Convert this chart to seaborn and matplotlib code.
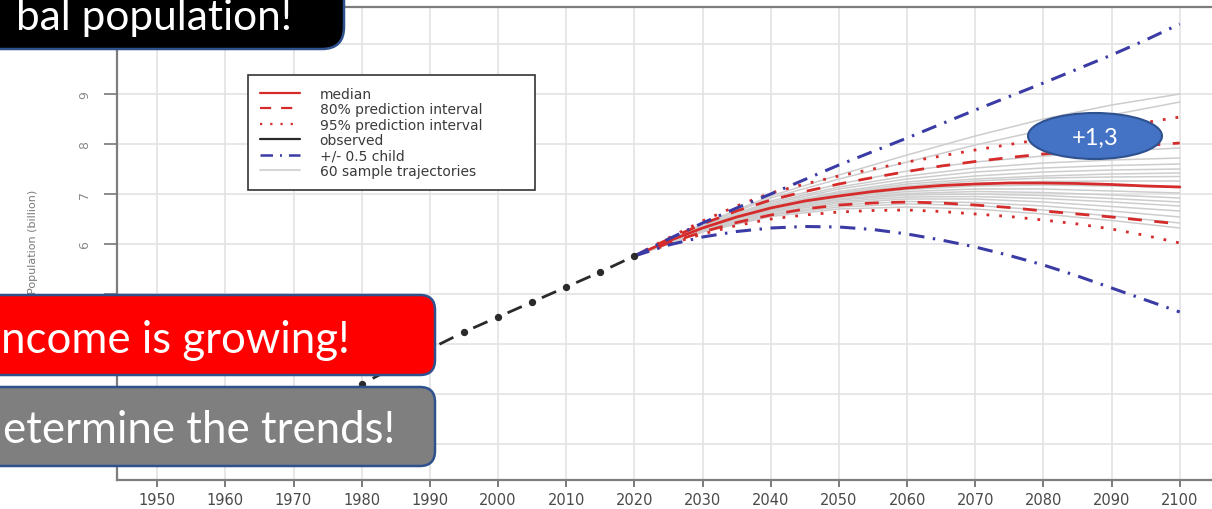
import matplotlib
matplotlib.use("Agg")
import matplotlib.pyplot as plt
from matplotlib.lines import Line2D
from matplotlib.patches import FancyBboxPatch, Ellipse
import pandas as pd
import seaborn as sns

# ---- observed population (billion) ----
obs_years = [1950, 1955, 1960, 1965, 1970, 1975, 1980, 1985,
             1990, 1995, 2000, 2005, 2010, 2015, 2020]
obs_pop = [1.75, 1.95, 2.15, 2.40, 2.65, 2.92, 3.20, 3.55,
           3.90, 4.24, 4.54, 4.84, 5.14, 5.44, 5.76]

# ---- probabilistic projection ----
proj_years = [2020, 2025, 2030, 2035, 2040, 2045, 2050, 2055, 2060,
              2065, 2070, 2075, 2080, 2085, 2090, 2095, 2100]
median = [5.76, 6.06, 6.32, 6.54, 6.72, 6.86, 6.96, 7.05, 7.12,
          7.17, 7.20, 7.22, 7.22, 7.21, 7.19, 7.16, 7.14]
pi80_hi = [5.76, 6.10, 6.40, 6.66, 6.88, 7.05, 7.20, 7.33, 7.45,
           7.56, 7.65, 7.73, 7.80, 7.86, 7.92, 7.97, 8.02]
pi80_lo = [5.76, 6.02, 6.24, 6.43, 6.58, 6.70, 6.78, 6.82, 6.84,
           6.82, 6.78, 6.73, 6.66, 6.60, 6.54, 6.47, 6.40]
pi95_hi = [5.76, 6.12, 6.46, 6.76, 7.02, 7.20, 7.36, 7.50, 7.64,
           7.76, 7.88, 7.99, 8.10, 8.21, 8.32, 8.43, 8.54]
pi95_lo = [5.76, 5.99, 6.20, 6.37, 6.50, 6.58, 6.64, 6.67, 6.68,
           6.65, 6.60, 6.55, 6.48, 6.40, 6.30, 6.17, 6.02]
child_hi = [5.76, 6.10, 6.42, 6.72, 7.00, 7.29, 7.58, 7.85, 8.12,
            8.40, 8.68, 8.95, 9.22, 9.50, 9.78, 10.08, 10.40]
child_lo = [5.76, 5.98, 6.14, 6.25, 6.32, 6.35, 6.34, 6.29, 6.20,
            6.08, 5.94, 5.77, 5.58, 5.36, 5.12, 4.88, 4.64]

# ---- sample trajectories (decadal) ----
traj_years = [2020, 2030, 2040, 2050, 2060, 2070, 2080, 2090, 2100]
trajectories = [
    [5.76, 6.40, 6.96, 7.38, 7.78, 8.16, 8.50, 8.78, 9.00],
    [5.76, 6.38, 6.92, 7.30, 7.64, 7.98, 8.28, 8.58, 8.84],
    [5.76, 6.36, 6.86, 7.20, 7.46, 7.64, 7.76, 7.85, 7.92],
    [5.76, 6.35, 6.83, 7.14, 7.36, 7.52, 7.62, 7.68, 7.72],
    [5.76, 6.34, 6.80, 7.10, 7.30, 7.44, 7.52, 7.57, 7.60],
    [5.76, 6.33, 6.77, 7.05, 7.24, 7.36, 7.44, 7.48, 7.50],
    [5.76, 6.33, 6.76, 7.02, 7.20, 7.30, 7.36, 7.40, 7.42],
    [5.76, 6.32, 6.74, 7.00, 7.16, 7.26, 7.32, 7.34, 7.35],
    [5.76, 6.31, 6.72, 6.97, 7.12, 7.21, 7.25, 7.26, 7.26],
    [5.76, 6.31, 6.71, 6.95, 7.09, 7.16, 7.18, 7.16, 7.14],
    [5.76, 6.30, 6.70, 6.93, 7.05, 7.10, 7.10, 7.06, 7.02],
    [5.76, 6.29, 6.68, 6.90, 7.01, 7.05, 7.03, 6.98, 6.92],
    [5.76, 6.29, 6.67, 6.88, 6.98, 7.00, 6.97, 6.91, 6.84],
    [5.76, 6.28, 6.65, 6.85, 6.94, 6.95, 6.91, 6.84, 6.76],
    [5.76, 6.27, 6.63, 6.82, 6.90, 6.90, 6.84, 6.75, 6.66],
    [5.76, 6.26, 6.60, 6.78, 6.85, 6.83, 6.76, 6.66, 6.54],
    [5.76, 6.25, 6.58, 6.74, 6.80, 6.77, 6.68, 6.56, 6.42],
    [5.76, 6.24, 6.55, 6.70, 6.74, 6.70, 6.60, 6.47, 6.32],
]

x_ticks = list(range(1950, 2101, 10))
y_ticks = [2, 3, 4, 5, 6, 7, 8, 9, 10]
# labels under the banners stay blank
y_tick_labels = ["", "", "", "5", "6", "7", "8", "9", ""]

legend_labels = ["median", "80% prediction interval", "95% prediction interval",
                 "observed", "+/- 0.5 child", "60 sample trajectories"]

banner_texts = ["bal population!", "ncome is growing!", "etermine the trends!"]
bubble_text = "+1,3"

# ---- styles ----
RED = "#D62B2B"
BLUE = "#3B3BA6"
BLACK = "#2A2A2A"
GREY = "#CDCDCD"
dash80 = (0, (5, 4.5))
dot95 = (0, (1, 3.6))
dashdot = (0, (5, 2.8, 0.8, 2.8))
OBS_ON, OBS_OFF = 5.6, 7.9
obs_style = (OBS_ON + OBS_OFF / 2, (OBS_ON, OBS_OFF))

sns.set_style("white")
plt.rcParams["font.family"] = ["DejaVu Sans"]

W, H = 1212, 510
fig = plt.figure(figsize=(W / 100, H / 100), dpi=100)
ax = fig.add_axes([117 / W, 1 - 481 / H, (1220 - 117) / W, (481 - 8) / H])
ax.set_xlim(1944.1, 2105.9)
ax.set_ylim(1.28, 10.74)

# trajectories
traj_df = pd.DataFrame(
    [(i, y, v) for i, tr in enumerate(trajectories) for y, v in zip(traj_years, tr)],
    columns=["traj", "year", "pop"],
)
sns.lineplot(data=traj_df, x="year", y="pop", units="traj", estimator=None,
             color=GREY, lw=1.1, ax=ax, zorder=2)

proj = pd.DataFrame({"year": proj_years, "median": median,
                     "pi80_hi": pi80_hi, "pi80_lo": pi80_lo,
                     "pi95_hi": pi95_hi, "pi95_lo": pi95_lo,
                     "child_hi": child_hi, "child_lo": child_lo})

for col in ["pi95_hi", "pi95_lo"]:
    sns.lineplot(data=proj, x="year", y=col, color=RED, lw=2.0,
                 linestyle=dot95, errorbar=None, ax=ax, zorder=3)
for col in ["pi80_hi", "pi80_lo"]:
    sns.lineplot(data=proj, x="year", y=col, color=RED, lw=2.0,
                 linestyle=dash80, errorbar=None, ax=ax, zorder=3)
sns.lineplot(data=proj, x="year", y="median", color=RED, lw=2.0,
             errorbar=None, ax=ax, zorder=4)
for col in ["child_hi", "child_lo"]:
    sns.lineplot(data=proj, x="year", y=col, color=BLUE, lw=2.2,
                 linestyle=dashdot, errorbar=None, ax=ax, zorder=4)

# observed series, traced backwards from 2020 so the dash pattern sits between points
obs = pd.DataFrame({"year": obs_years, "pop": obs_pop}).iloc[::-1]
sns.lineplot(data=obs, x="year", y="pop", sort=False, color=BLACK, lw=2.0,
             linestyle=obs_style, marker="o", markersize=4.5,
             mec=BLACK, mfc=BLACK, errorbar=None, ax=ax, zorder=5)

# axes cosmetics
ax.set_xticks(x_ticks)
ax.set_yticks(y_ticks)
ax.set_yticklabels(y_tick_labels)
ax.grid(True, color="#E3E3E3", lw=1.2)
ax.set_axisbelow(True)
ax.set_xlabel("")
ax.set_ylabel("Population (billion)", fontsize=8, color="#7A7A7A")
ax.yaxis.set_label_coords(-0.0716, 0.505)
for side in ["left", "bottom", "top"]:
    ax.spines[side].set_color("#7D7D7D")
    ax.spines[side].set_linewidth(1.6)
ax.spines["right"].set_visible(False)
ax.tick_params(axis="x", direction="out", length=5, width=1.2, color="#666666",
               labelsize=10.5, labelcolor="#4A4A4A", pad=3.5, bottom=True)
ax.tick_params(axis="y", direction="out", length=9.5, width=1.2, color="#777777",
               labelsize=9, labelcolor="#8A8A8A", pad=9, left=True, labelrotation=90)
for lab in ax.get_yticklabels():
    lab.set_va("center")

# legend
handles = [
    Line2D([], [], color=RED, lw=1.6),
    Line2D([], [], color=RED, lw=1.6, linestyle=dash80),
    Line2D([], [], color=RED, lw=1.6, linestyle=dot95),
    Line2D([], [], color=BLACK, lw=1.6),
    Line2D([], [], color=BLUE, lw=1.8, linestyle=dashdot),
    Line2D([], [], color=GREY, lw=1.2),
]
leg = ax.legend(handles, legend_labels, loc="upper left",
                bbox_to_anchor=(248 / W, 1 - 76 / H - 0.01, (535 - 248) / W, 0.01),
                bbox_transform=fig.transFigure, mode="expand",
                fontsize=10, labelspacing=0.1, handlelength=2.9,
                handletextpad=1.4, borderpad=0.85, borderaxespad=0,
                fancybox=False, framealpha=1, edgecolor="#333333",
                labelcolor="#3A3A3A")
leg.get_frame().set_linewidth(1.2)

# overlay for the banners and the bubble, in pixel coordinates
ov = fig.add_axes([0, 0, 1, 1], zorder=10)
ov.set_xlim(0, W)
ov.set_ylim(H, 0)
ov.axis("off")
EDGE = "#2F528F"
ov.add_patch(FancyBboxPatch((-40, -60), 384, 110, boxstyle="round,pad=0,rounding_size=22",
                            fc="black", ec=EDGE, lw=1.8))
ov.add_patch(FancyBboxPatch((-40, 296), 475, 80, boxstyle="round,pad=0,rounding_size=15",
                            fc="#FF0000", ec=EDGE, lw=1.8))
ov.add_patch(FancyBboxPatch((-40, 388), 475, 79, boxstyle="round,pad=0,rounding_size=15",
                            fc="#7F7F7F", ec=EDGE, lw=1.8))
ov.text(292, 30, banner_texts[0], color="white", fontsize=30.5, family="Lato",
        ha="right", va="baseline")
ov.text(350, 353, banner_texts[1], color="white", fontsize=31.5, family="Lato",
        ha="right", va="baseline")
ov.text(395, 443, banner_texts[2], color="white", fontsize=31.5, family="Lato",
        ha="right", va="baseline")
ov.add_patch(Ellipse((1095, 137), 134, 46, fc="#4472C4", ec=EDGE, lw=1.5))
ov.text(1095, 138, bubble_text, color="white", fontsize=17, family="Lato",
        ha="center", va="center")

fig.savefig("out.png", dpi=100)
